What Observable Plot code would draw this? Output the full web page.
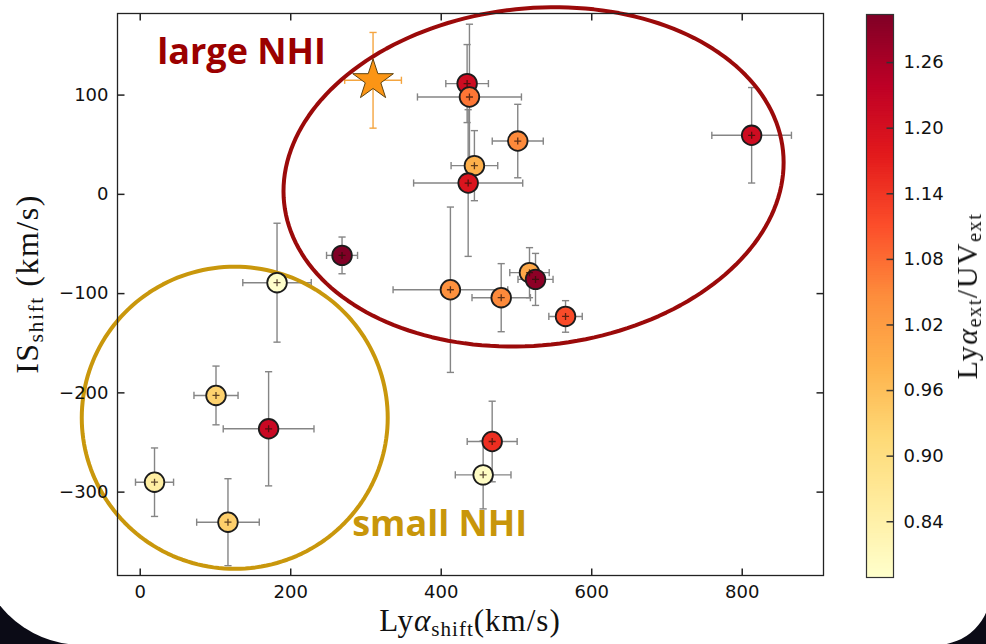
<!DOCTYPE html>
<html><head><meta charset="utf-8">
<script src="https://cdn.jsdelivr.net/npm/d3@7"></script>
<script src="https://cdn.jsdelivr.net/npm/@observablehq/plot@0.6"></script>
<style>
html,body{margin:0;padding:0;background:#0b0b16;width:986px;height:644px;overflow:hidden;}
#slide{position:absolute;left:-23px;top:-200px;width:1014px;height:845px;background:#fff;border-bottom-left-radius:105px;border-bottom-right-radius:55px;}
#wrap{position:absolute;left:0;top:0;width:986px;height:644px;}
#wrap svg{position:absolute;left:0;top:0;}
.lab{position:absolute;font-family:"Liberation Serif",serif;font-size:32px;color:#111;white-space:nowrap;line-height:1;}
.rot{transform:translate(-50%,-50%) rotate(-90deg);}
.sub{font-size:0.68em;position:relative;top:0.22em;}
</style></head><body>
<div id="slide"></div>
<div id="wrap"></div>
<script>
// ---- data ----
const lyaShift = [434.4, 437.5, 501.7, 444.1, 435.8, 812.5, 268.2, 181.8, 412.2, 479.7, 517.3, 525.3, 565.2, 100.7, 170.6, 467.7, 455.7, 19.0, 116.6];
const isShift  = [111.6, 98.1, 53.7, 28.9, 11.4, 59.5, -61.5, -89.0, -96.1, -104.1, -78.9, -85.7, -123.0, -202.6, -236.2, -249.0, -282.6, -290.0, -330.3];
const lyaErr   = [28.3, 69.1, 33.9, 31.0, 72.5, 52.9, 20.6, 45.5, 76.2, 38.8, 26.2, 23.3, 22.2, 29.3, 60.3, 33.2, 37.0, 25.3, 41.6];
const isErr    = [39.3, 73.3, 37.0, 35.3, 73.9, 48.1, 18.5, 59.9, 83.3, 34.3, 25.2, 26.2, 15.9, 29.6, 57.5, 40.6, 34.3, 34.5, 43.8];
const extRatio = [1.21, 1.07, 1.05, 0.985, 1.19, 1.21, 1.304, 0.789, 1.04, 1.05, 1.0, 1.29, 1.115, 0.93, 1.22, 1.15, 0.80, 0.85, 0.935];

const starLya = [309.4], starIs = [114.9], starLyaErr = [37.7], starIsErr = [48.2];

const xTicks = [0, 200, 400, 600, 800];
const yTicks = [-300, -200, -100, 0, 100];
const cbTicks = [0.84, 0.90, 0.96, 1.02, 1.08, 1.14, 1.20, 1.26];
const xDomain = [-30.2, 908];
const yDomain = [-384, 182.2];
const cDomain = [0.789, 1.304];
const ylorrd = ["#ffffcc","#ffeda0","#fed976","#feb24c","#fd8d3c","#fc4e2a","#e31a1c","#bd0026","#800026"];

// annotations (data units: centre, semi-axes, rotation in degrees on screen)
const bigEllipse   = {cx: 522.7, cy: 17.6, ax: 333.3, by: 169.8, rot: -6, color: "#9b0a0a"};
const smallEllipse = {cx: 125.6, cy: -225.1, ax: 203.3, by: 152.2, rot: 0, color: "#c9970c"};
const labels = [
  {x: 22.6, y: 131.8, text: "large NHI", color: "#9b0000"},
  {x: 281.7, y: -343.8, text: "small NHI", color: "#c8960a"}
];

// ---- layout ----
const W = 986, H = 644;
const M = {left: 117, right: 163, top: 13, bottom: 69};
const kx = (W - M.left - M.right) / (xDomain[1] - xDomain[0]);
const ky = (H - M.top - M.bottom) / (yDomain[1] - yDomain[0]);

const pts = lyaShift.map((x, i) => ({x, y: isShift[i], xe: lyaErr[i], ye: isErr[i], c: extRatio[i]}));
const star = starLya.map((x, i) => ({x, y: starIs[i], xe: starLyaErr[i], ye: starIsErr[i]}));

function ellipsePts(e) {
  const th = e.rot * Math.PI / 180;
  const a = e.ax * kx, b = e.by * ky;
  return d3.range(0, 361, 2).map(t => {
    const r = t * Math.PI / 180;
    const u = a * Math.cos(r), v = b * Math.sin(r);
    const du = u * Math.cos(th) - v * Math.sin(th);
    const dv = u * Math.sin(th) + v * Math.cos(th);
    return {x: e.cx + du / kx, y: e.cy - dv / ky};
  });
}

const hbar = {draw(ctx, size) { const r = Math.sqrt(size / Math.PI); ctx.moveTo(-r, 0); ctx.lineTo(r, 0); }};
const vbar = {draw(ctx, size) { const r = Math.sqrt(size / Math.PI); ctx.moveTo(0, -r); ctx.lineTo(0, r); }};

const colorScale = {type: "linear", domain: d3.range(9).map(i => cDomain[0] + i * (cDomain[1] - cDomain[0]) / 8), range: ylorrd};
const style = {background: "transparent", fontFamily: "DejaVu Sans, sans-serif", fontSize: "18px", color: "#111", overflow: "visible"};

const errColor = "#858585", capR = 3.6, tickR = 3.5;

const main = Plot.plot({
  width: W, height: H,
  marginLeft: M.left, marginRight: M.right, marginTop: M.top, marginBottom: M.bottom,
  x: {domain: xDomain}, y: {domain: yDomain},
  color: colorScale,
  style,
  marks: [
    // error bars
    Plot.link(pts, {x1: d => d.x - d.xe, x2: d => d.x + d.xe, y1: "y", y2: "y", stroke: errColor, strokeWidth: 1.4}),
    Plot.link(pts, {x1: "x", x2: "x", y1: d => d.y - d.ye, y2: d => d.y + d.ye, stroke: errColor, strokeWidth: 1.4}),
    Plot.dot(pts, {x: d => d.x - d.xe, y: "y", symbol: vbar, r: capR, stroke: errColor, strokeWidth: 1.4}),
    Plot.dot(pts, {x: d => d.x + d.xe, y: "y", symbol: vbar, r: capR, stroke: errColor, strokeWidth: 1.4}),
    Plot.dot(pts, {x: "x", y: d => d.y - d.ye, symbol: hbar, r: capR, stroke: errColor, strokeWidth: 1.4}),
    Plot.dot(pts, {x: "x", y: d => d.y + d.ye, symbol: hbar, r: capR, stroke: errColor, strokeWidth: 1.4}),
    // star error bars
    Plot.link(star, {x1: d => d.x - d.xe, x2: d => d.x + d.xe, y1: "y", y2: "y", stroke: "#f4a540", strokeWidth: 1.4}),
    Plot.link(star, {x1: "x", x2: "x", y1: d => d.y - d.ye, y2: d => d.y + d.ye, stroke: "#f4a540", strokeWidth: 1.4}),
    Plot.dot(star, {x: d => d.x - d.xe, y: "y", symbol: vbar, r: capR, stroke: "#f4a540", strokeWidth: 1.4}),
    Plot.dot(star, {x: d => d.x + d.xe, y: "y", symbol: vbar, r: capR, stroke: "#f4a540", strokeWidth: 1.4}),
    Plot.dot(star, {x: "x", y: d => d.y - d.ye, symbol: hbar, r: capR, stroke: "#f4a540", strokeWidth: 1.4}),
    Plot.dot(star, {x: "x", y: d => d.y + d.ye, symbol: hbar, r: capR, stroke: "#f4a540", strokeWidth: 1.4}),
    // annotation ellipses
    Plot.line(ellipsePts(smallEllipse), {x: "x", y: "y", stroke: smallEllipse.color, strokeWidth: 4, curve: "linear-closed"}),
    Plot.line(ellipsePts(bigEllipse), {x: "x", y: "y", stroke: bigEllipse.color, strokeWidth: 4, curve: "linear-closed"}),
    // points
    Plot.dot(pts, {x: "x", y: "y", r: 9.8, fill: "c", stroke: "#1c1c1c", strokeWidth: 1.8}),
    Plot.dot(pts, {x: "x", y: "y", symbol: "plus", r: 2.4, stroke: "#2a1208", strokeWidth: 1.3, strokeOpacity: 0.75}),
    Plot.dot(star, {x: "x", y: "y", symbol: "star", r: 12.8, fill: "#fb9515", stroke: "#5e4310", strokeWidth: 1}),
    // labels
    Plot.text(labels, {x: "x", y: "y", text: "text", fill: "color", textAnchor: "start", lineAnchor: "bottom",
      fontFamily: "Open Sans, sans-serif", fontWeight: 700, fontSize: 36}),
    // frame and axes
    Plot.frame({stroke: "#222", strokeWidth: 1.3}),
    Plot.axisX({ticks: xTicks, tickSize: 0, tickPadding: 10, label: null, fontSize: 18}),
    Plot.axisY({ticks: yTicks, tickSize: 0, tickPadding: 9, label: null, fontSize: 18}),
    Plot.dot(xTicks, {x: d => d, y: () => yDomain[0], symbol: vbar, r: tickR, dy: -tickR, stroke: "#222"}),
    Plot.dot(xTicks, {x: d => d, y: () => yDomain[1], symbol: vbar, r: tickR, dy: tickR, stroke: "#222"}),
    Plot.dot(yTicks, {y: d => d, x: () => xDomain[0], symbol: hbar, r: tickR, dx: tickR, stroke: "#222"}),
    Plot.dot(yTicks, {y: d => d, x: () => xDomain[1], symbol: hbar, r: tickR, dx: -tickR, stroke: "#222"})
  ]
});

// colour bar
const nBand = 240, step = (cDomain[1] - cDomain[0]) / nBand;
const ramp = d3.range(nBand).map(i => cDomain[0] + (i + 0.5) * step);
const cbar = Plot.plot({
  width: W, height: H,
  marginLeft: 866, marginRight: 93, marginTop: 14, marginBottom: 67,
  x: {domain: [0, 1], axis: null},
  y: {domain: cDomain},
  color: colorScale,
  style,
  marks: [
    Plot.rect(ramp, {x1: 0, x2: 1, y1: d => Math.max(cDomain[0], d - step * 0.7), y2: d => Math.min(cDomain[1], d + step * 0.7), fill: d => d}),
    Plot.frame({stroke: "#333", strokeWidth: 1.2}),
    Plot.dot(cbTicks, {y: d => d, x: () => 1, symbol: hbar, r: tickR, dx: -tickR, stroke: "#333"}),
    Plot.axisY({anchor: "right", ticks: cbTicks, tickFormat: d3.format(".2f"), tickSize: 0, tickPadding: 10, label: null, fontSize: 18})
  ]
});

const wrap = document.getElementById("wrap");
wrap.appendChild(main);
wrap.appendChild(cbar);

function addLabel(html, x, y, rotate, extra) {
  const d = document.createElement("div");
  d.className = "lab" + (rotate ? " rot" : "");
  if (!rotate) d.style.transform = "translate(-50%,-50%)";
  d.style.left = x + "px"; d.style.top = y + "px";
  if (extra) Object.assign(d.style, extra);
  d.innerHTML = html;
  wrap.appendChild(d);
}
addLabel('Ly<i>α</i><span class="sub">shift</span>(km/s)', 470, 620, false, {letterSpacing: "1px", fontSize: "31px"});
addLabel('IS<span class="sub">shift</span> (km/s)', 27, 284, true, {letterSpacing: "1.5px"});
addLabel('Ly<i>α</i><span class="sub">ext</span>/UV<span class="sub">ext</span>', 967, 296, true, {letterSpacing: "1.5px", fontSize: "30px"});
</script>
</body></html>
